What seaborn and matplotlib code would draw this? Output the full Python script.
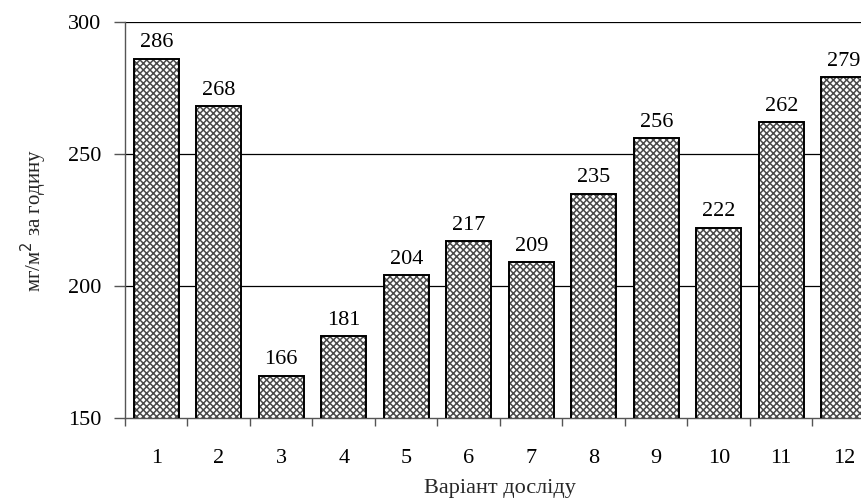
import matplotlib
matplotlib.use("Agg")
import matplotlib.pyplot as plt
import seaborn as sns
import pandas as pd
import numpy as np

variants = ["1", "2", "3", "4", "5", "6", "7", "8", "9", "10", "11", "12"]
values = [286, 268, 166, 181, 204, 217, 209, 235, 256, 222, 262, 279]
y_ticks = [150, 200, 250, 300]

sns.set_theme(style="white")
plt.rcParams["font.family"] = ["Liberation Serif", "DejaVu Serif"]
plt.rcParams["hatch.linewidth"] = 1.1

df = pd.DataFrame({"variant": variants, "value": values})

fig = plt.figure(figsize=(8.62, 5.04), dpi=100)
ax = fig.add_axes([125 / 862, 86 / 504, 750 / 862, 396 / 504])

for yv in y_ticks[1:]:
    ax.axhline(yv, color="black", lw=0.9, zorder=0)

sns.barplot(data=df, x="variant", y="value", ax=ax, color="white",
            edgecolor="#4a4a4a", linewidth=0, hatch="xxxxx", width=0.72,
            saturation=1, zorder=2)
sns.barplot(data=df, x="variant", y="value", ax=ax, fill=False,
            edgecolor="black", linewidth=1.4, width=0.72, zorder=3)

for i, v in enumerate(values):
    ax.text(i, v + 2.5, str(v), ha="center", va="bottom", fontsize=16,
            color="black")

ax.set_ylim(150, 300)
ax.set_xlim(-0.5, 11.5)
ax.set_yticks(y_ticks)
ax.set_yticklabels([str(t) for t in y_ticks], fontsize=16)
ax.set_xticks(range(12))
ax.set_xticklabels(variants, fontsize=16)
ax.set_xticks(np.arange(-0.5, 12, 1), minor=True)
ax.tick_params(axis="x", which="major", length=0, pad=22, colors="black")
ax.tick_params(axis="x", which="minor", length=6, width=1.0, color="#555555",
               direction="out", bottom=True)
ax.tick_params(axis="y", which="major", length=8, width=1.0, color="#555555",
               direction="out", left=True, pad=9, labelcolor="black")

for s in ["top", "right"]:
    ax.spines[s].set_visible(False)
for s in ["left", "bottom"]:
    ax.spines[s].set_color("#555555")
    ax.spines[s].set_linewidth(1.0)

ax.set_xlabel("Варіант досліду", fontsize=16, labelpad=8)
ax.set_ylabel("мг/м$^2$ за годину", fontsize=15, labelpad=14)

fig.savefig("out.png", dpi=100)
